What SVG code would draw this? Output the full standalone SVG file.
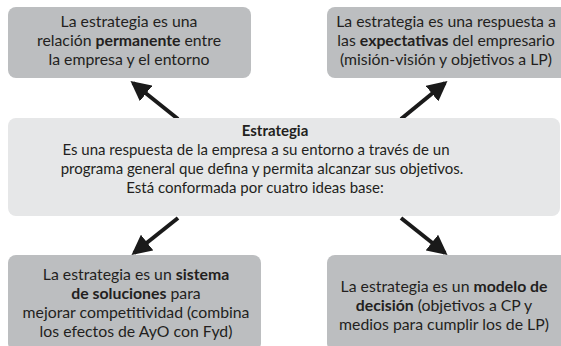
<svg xmlns="http://www.w3.org/2000/svg" width="561" height="346" viewBox="0 0 561 346">
<defs>
<style>
.box{fill:#bcbec0;}
.main{fill:#e6e7e8;}
text{font-family:Lato,"Open Sans","Liberation Sans",sans-serif;font-size:15px;fill:#231f20;text-anchor:middle;}
.o{font-size:15.8px;}
.b{font-weight:bold;}
.arr{stroke:#1a1a1a;stroke-width:4;fill:none;marker-end:url(#ah);}
</style>
<marker id="ah" markerWidth="5" markerHeight="5" refX="4.2" refY="2.5" orient="auto" markerUnits="strokeWidth" viewBox="0 0 5 5">
<path d="M0,0 L5,2.5 L0,5 Z" fill="#1a1a1a"/>
</marker>
</defs>
<rect width="561" height="346" fill="#ffffff"/>
<g id="connectors">
<line class="arr" x1="178" y1="119" x2="133" y2="83"/>
<line class="arr" x1="401" y1="119" x2="445" y2="83"/>
<line class="arr" x1="178" y1="218" x2="134" y2="253"/>
<line class="arr" x1="401" y1="218" x2="445" y2="253"/>
</g>
<g id="node-top-left">
<rect class="box" x="8" y="7" width="243" height="71" rx="8"/>
<text class="o" x="129" y="27">La estrategia es una</text>
<text class="o" x="129" y="46">relación <tspan class="b">permanente</tspan> entre</text>
<text class="o" x="129" y="65">la empresa y el entorno</text>
</g>
<g id="node-top-right">
<rect class="box" x="327" y="7" width="250" height="71" rx="8"/>
<text class="o" x="446" y="27">La estrategia es una respuesta a</text>
<text class="o" x="446" y="46">las <tspan class="b">expectativas</tspan> del empresario</text>
<text class="o" x="446" y="65">(misión-visión y objetivos a LP)</text>
</g>
<g id="node-center">
<rect class="main" x="8" y="118" width="552" height="98" rx="8"/>
<text x="275" y="136" class="b">Estrategia</text>
<text x="256" y="155">Es una respuesta de la empresa a su entorno a través de un</text>
<text x="262" y="174">programa general que defina y permita alcanzar sus objetivos.</text>
<text x="255" y="193">Está conformada por cuatro ideas base:</text>
</g>
<g id="node-bottom-left">
<rect class="box" x="8" y="255" width="253" height="96" rx="8"/>
<text class="o" x="136" y="280">La estrategia es un <tspan class="b">sistema</tspan></text>
<text class="o" x="136" y="299"><tspan class="b">de soluciones</tspan> para</text>
<text class="o" x="136" y="318">mejorar competitividad (combina</text>
<text class="o" x="136" y="337">los efectos de AyO con Fyd)</text>
</g>
<g id="node-bottom-right">
<rect class="box" x="327" y="255" width="250" height="96" rx="8"/>
<text class="o" x="444" y="292">La estrategia es un <tspan class="b">modelo de</tspan></text>
<text class="o" x="444" y="311"><tspan class="b">decisión</tspan> (objetivos a CP y</text>
<text class="o" x="444" y="330">medios para cumplir los de LP)</text>
</g>
</svg>
